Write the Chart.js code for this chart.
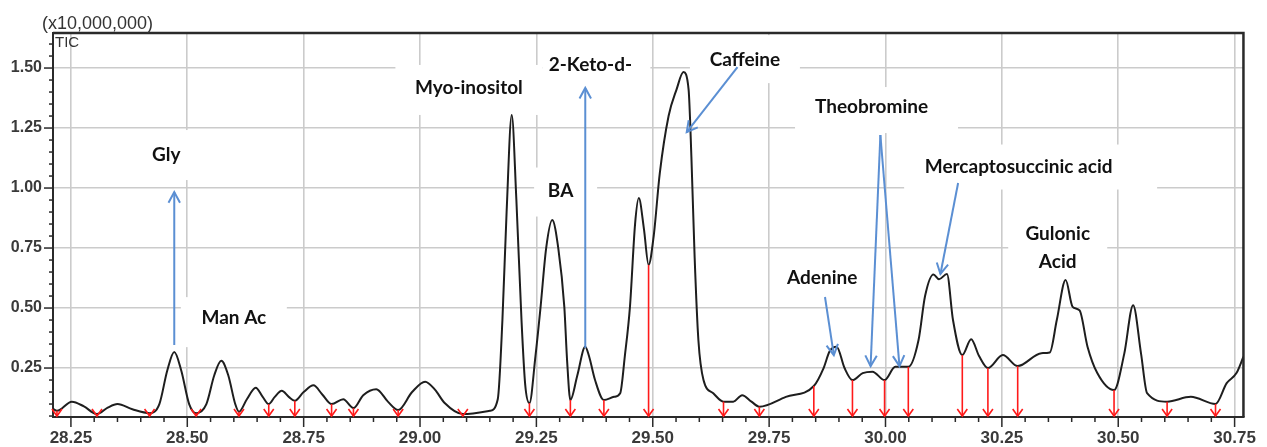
<!DOCTYPE html>
<html>
<head>
<meta charset="utf-8">
<script src="https://cdn.jsdelivr.net/npm/chart.js@4.4.1/dist/chart.umd.min.js"></script>
<style>
  html, body { margin: 0; padding: 0; background: #fff; }
</style>
</head>
<body>
<canvas id="tic" width="1267" height="447"></canvas>
<script>
// retention time (min) and TIC intensity (x10,000,000)
const times = [
  28.2115, 28.220, 28.252, 28.278, 28.306, 28.329, 28.350, 28.382, 28.419, 28.440,
  28.457, 28.472, 28.487, 28.504, 28.519, 28.541, 28.558, 28.573, 28.588, 28.603,
  28.611, 28.628, 28.647, 28.662, 28.675, 28.688, 28.703, 28.718, 28.731, 28.750,
  28.771, 28.790, 28.810, 28.835, 28.857, 28.878, 28.906, 28.931, 28.953, 28.983,
  29.011, 29.032, 29.053, 29.092, 29.150, 29.167, 29.177, 29.186, 29.197, 29.207,
  29.218, 29.226, 29.235, 29.248, 29.259, 29.271, 29.284, 29.297, 29.310, 29.316,
  29.323, 29.338, 29.355, 29.363, 29.376, 29.395, 29.417, 29.430, 29.440, 29.451,
  29.462, 29.470, 29.481, 29.491, 29.502, 29.515, 29.534, 29.551, 29.566, 29.577,
  29.583, 29.590, 29.598, 29.609, 29.630, 29.652, 29.673, 29.692, 29.712, 29.729,
  29.786, 29.846, 29.867, 29.880, 29.895, 29.912, 29.929, 29.951, 29.972, 29.998,
  30.021, 30.049, 30.071, 30.085, 30.103, 30.115, 30.132, 30.145, 30.165, 30.184,
  30.201, 30.220, 30.252, 30.284, 30.335, 30.353, 30.368, 30.387, 30.402, 30.417,
  30.434, 30.455, 30.491, 30.513, 30.532, 30.549, 30.562, 30.605, 30.656, 30.709,
  30.733, 30.754, 30.769
];
const intensity = [
  0.080, 0.072, 0.110, 0.090, 0.058, 0.085, 0.100, 0.078, 0.062, 0.100,
  0.240, 0.317, 0.240, 0.100, 0.062, 0.100, 0.220, 0.280, 0.220, 0.100,
  0.068, 0.120, 0.168, 0.130, 0.100, 0.130, 0.155, 0.130, 0.114, 0.150,
  0.178, 0.140, 0.100, 0.120, 0.083, 0.137, 0.162, 0.110, 0.075, 0.150,
  0.193, 0.160, 0.104, 0.058, 0.072, 0.120, 0.450, 0.900, 1.304, 0.950,
  0.450, 0.180, 0.104, 0.300, 0.505, 0.750, 0.867, 0.750, 0.505, 0.280,
  0.117, 0.220, 0.339, 0.300, 0.200, 0.117, 0.130, 0.145, 0.300, 0.505,
  0.850, 0.958, 0.830, 0.680, 0.800, 1.060, 1.300, 1.410, 1.483, 1.410,
  1.130, 0.710, 0.367, 0.200, 0.145, 0.110, 0.110, 0.137, 0.110, 0.089,
  0.130, 0.175, 0.250, 0.320, 0.339, 0.250, 0.200, 0.229, 0.235, 0.200,
  0.255, 0.255, 0.367, 0.550, 0.640, 0.620, 0.642, 0.450, 0.304, 0.370,
  0.300, 0.250, 0.304, 0.258, 0.312, 0.315, 0.450, 0.617, 0.505, 0.490,
  0.339, 0.229, 0.158, 0.310, 0.512, 0.310, 0.145, 0.110, 0.130, 0.100,
  0.187, 0.229, 0.297
];

// red peak-integration cut marks
const cutTimes = [
  28.220, 28.306, 28.419, 28.519, 28.611, 28.675, 28.731, 28.810, 28.857, 28.953,
  29.092, 29.235, 29.323, 29.395, 29.491, 29.652, 29.729, 29.846, 29.929, 29.998,
  30.049, 30.165, 30.220, 30.284, 30.491, 30.605, 30.709
];
const cutLevels = [
  0.072, 0.058, 0.062, 0.062, 0.068, 0.100, 0.114, 0.100, 0.083, 0.075,
  0.058, 0.104, 0.117, 0.117, 0.680, 0.110, 0.089, 0.175, 0.200, 0.200,
  0.255, 0.304, 0.250, 0.258, 0.158, 0.110, 0.100
];

const xTickLabels = ['28.25', '28.50', '28.75', '29.00', '29.25', '29.50', '29.75', '30.00', '30.25', '30.50', '30.75'];
const yTickLabels = ['0.25', '0.50', '0.75', '1.00', '1.25', '1.50'];

const xMin = 28.2115, xMax = 30.769;
const yMin = 0.046, yMax = 1.646;

// compound labels: text centre in data units, white box in px
const compoundLabels = [
  { lines: ['Gly'], x: 28.455, y: 1.1375, w: 70, h: 50, dx: 0, dy: 0 },
  { lines: ['Man Ac'], x: 28.600, y: 0.458, w: 106, h: 50, dx: 0, dy: 4 },
  { lines: ['Myo-inositol'], x: 29.105, y: 1.417, w: 147, h: 50, dx: 0, dy: 2 },
  { lines: ['2-Keto-d-'], x: 29.366, y: 1.5125, w: 108, h: 50, dx: 6, dy: 0 },
  { lines: ['BA'], x: 29.302, y: 0.9875, w: 63, h: 49, dx: 5, dy: 1 },
  { lines: ['Caffeine'], x: 29.698, y: 1.533, w: 110, h: 48, dx: 0, dy: -1 },
  { lines: ['Theobromine'], x: 29.970, y: 1.3375, w: 163, h: 46, dx: 5, dy: 3 },
  { lines: ['Mercaptosuccinic acid'], x: 30.286, y: 1.0875, w: 253, h: 45, dx: 12, dy: 0 },
  { lines: ['Gulonic', 'Acid'], x: 30.370, y: 0.750, w: 99, h: 75, dx: 0, dy: 0 },
  { lines: ['Adenine'], x: 29.864, y: 0.625, w: 90, h: 36, dx: 0, dy: 0 }
];

const pointerArrows = [
  { from: [28.472, 0.346], to: [28.472, 0.983] },
  { from: [29.355, 0.333], to: [29.355, 1.417] },
  { from: [29.682, 1.504], to: [29.573, 1.233] },
  { from: [29.989, 1.221], to: [29.968, 0.258] },
  { from: [29.989, 1.221], to: [30.030, 0.258] },
  { from: [29.870, 0.546], to: [29.889, 0.304] },
  { from: [30.156, 1.021], to: [30.118, 0.642] }
];

const gridColor = '#cbcbcb';
const axisColor = '#2a2a2a';
const labelFont = 'bold 19px Lato';

function isMajor(v) {
  return Math.abs(v / 0.25 - Math.round(v / 0.25)) < 1e-6;
}
function stepTicks(min, max) {
  const out = [];
  for (let i = Math.ceil(min / 0.05 - 1e-9); i * 0.05 <= max + 1e-9; i++) {
    out.push(+(i * 0.05).toFixed(2));
  }
  return out;
}
const xTickValues = stepTicks(xMin, xMax);
const yTickValues = stepTicks(yMin, yMax);

function tickText(labels) {
  return (value) => {
    const hit = labels.find(l => Math.abs(Number(l) - value) < 1e-6);
    return hit || '';
  };
}

function arrowHead(ctx, x0, y0, x1, y1, size) {
  const a = Math.atan2(y1 - y0, x1 - x0);
  ctx.beginPath();
  ctx.moveTo(x1 - size * Math.cos(a - 0.5), y1 - size * Math.sin(a - 0.5));
  ctx.lineTo(x1, y1);
  ctx.lineTo(x1 - size * Math.cos(a + 0.5), y1 - size * Math.sin(a + 0.5));
  ctx.stroke();
}

const decorations = {
  id: 'decorations',
  beforeDatasetsDraw(chart) {
    const { ctx, chartArea, scales: { x, y } } = chart;
    ctx.save();
    ctx.beginPath();
    ctx.rect(chartArea.left + 2, chartArea.top + 2, chartArea.width - 4, chartArea.height - 4);
    ctx.clip();
    ctx.fillStyle = '#fff';
    compoundLabels.forEach(l => {
      const cx = x.getPixelForValue(l.x) + l.dx;
      const cy = y.getPixelForValue(l.y) + l.dy;
      ctx.fillRect(cx - l.w / 2, cy - l.h / 2, l.w, l.h);
    });
    ctx.restore();
  },
  afterDatasetsDraw(chart) {
    const { ctx, chartArea, scales: { x, y } } = chart;
    ctx.save();

    // red cut marks
    ctx.strokeStyle = '#ff1a1a';
    ctx.lineWidth = 1.6;
    cutTimes.forEach((t, i) => {
      const px = x.getPixelForValue(t);
      const top = y.getPixelForValue(cutLevels[i]);
      const bottom = chartArea.bottom - 1;
      ctx.beginPath();
      ctx.moveTo(px, top);
      ctx.lineTo(px, bottom);
      ctx.stroke();
      ctx.beginPath();
      ctx.moveTo(px - 5, bottom - 7);
      ctx.lineTo(px, bottom);
      ctx.lineTo(px + 5, bottom - 7);
      ctx.stroke();
    });

    // blue pointer arrows
    ctx.strokeStyle = '#5b8fd3';
    ctx.lineWidth = 2;
    pointerArrows.forEach(a => {
      const x0 = x.getPixelForValue(a.from[0]), y0 = y.getPixelForValue(a.from[1]);
      const x1 = x.getPixelForValue(a.to[0]), y1 = y.getPixelForValue(a.to[1]);
      ctx.beginPath();
      ctx.moveTo(x0, y0);
      ctx.lineTo(x1, y1);
      ctx.stroke();
      arrowHead(ctx, x0, y0, x1, y1, 12);
    });

    // compound names
    ctx.fillStyle = '#111';
    ctx.font = labelFont;
    ctx.textAlign = 'center';
    ctx.textBaseline = 'middle';
    compoundLabels.forEach(l => {
      const cx = x.getPixelForValue(l.x);
      const cy = y.getPixelForValue(l.y);
      const lh = 28;
      l.lines.forEach((s, i) => {
        ctx.fillText(s, cx, cy + (i - (l.lines.length - 1) / 2) * lh);
      });
    });

    // tick marks
    ctx.strokeStyle = axisColor;
    ctx.lineWidth = 1.5;
    x.ticks.forEach(t => {
      const px = x.getPixelForValue(t.value);
      const len = isMajor(t.value) ? 10 : 5;
      ctx.beginPath();
      ctx.moveTo(px, chartArea.bottom);
      ctx.lineTo(px, chartArea.bottom + len);
      ctx.stroke();
    });
    y.ticks.forEach(t => {
      const py = y.getPixelForValue(t.value);
      const len = isMajor(t.value) ? 9 : 4;
      ctx.beginPath();
      ctx.moveTo(chartArea.left, py);
      ctx.lineTo(chartArea.left - len, py);
      ctx.stroke();
    });

    // frame top / right
    ctx.lineWidth = 2.5;
    ctx.beginPath();
    ctx.moveTo(chartArea.left, chartArea.top);
    ctx.lineTo(chartArea.right, chartArea.top);
    ctx.lineTo(chartArea.right, chartArea.bottom);
    ctx.stroke();

    // header texts
    ctx.fillStyle = '#333';
    ctx.textAlign = 'left';
    ctx.font = '18px "Liberation Sans"';
    ctx.fillText('(x10,000,000)', 42, 24);
    ctx.font = '15px "Liberation Sans"';
    ctx.fillText('TIC', chartArea.left + 2, chartArea.top + 10);
    ctx.restore();
  }
};

new Chart(document.getElementById('tic'), {
  type: 'line',
  data: {
    datasets: [{
      label: 'TIC',
      data: times.map((t, i) => ({ x: t, y: intensity[i] })),
      borderColor: '#1e1e1e',
      borderWidth: 2,
      pointRadius: 0,
      fill: false,
      cubicInterpolationMode: 'monotone'
    }]
  },
  options: {
    responsive: false,
    animation: false,
    layout: { padding: { top: 33, right: 17, left: 0, bottom: 0 } },
    plugins: {
      legend: { display: false },
      tooltip: { enabled: false }
    },
    scales: {
      x: {
        type: 'linear',
        min: xMin,
        max: xMax,
        afterBuildTicks: (scale) => { scale.ticks = xTickValues.map(v => ({ value: v })); },
        afterFit: (scale) => { scale.height = 30; },
        grid: {
          color: (c) => (c.tick && isMajor(c.tick.value)) ? gridColor : 'rgba(0,0,0,0)',
          lineWidth: 1.6,
          drawTicks: false
        },
        border: { display: true, color: axisColor, width: 2 },
        ticks: {
          callback: tickText(xTickLabels),
          autoSkip: false,
          maxRotation: 0,
          padding: 11,
          color: '#3a3a3a',
          font: { family: 'Liberation Sans', size: 17, weight: 'bold' }
        }
      },
      y: {
        min: yMin,
        max: yMax,
        afterBuildTicks: (scale) => { scale.ticks = yTickValues.map(v => ({ value: v })); },
        afterFit: (scale) => { scale.width = 53; },
        grid: {
          color: (c) => (c.tick && isMajor(c.tick.value)) ? gridColor : 'rgba(0,0,0,0)',
          lineWidth: 1.6,
          drawTicks: false
        },
        border: { display: true, color: axisColor, width: 2 },
        ticks: {
          callback: tickText(yTickLabels),
          autoSkip: false,
          padding: 11,
          color: '#3a3a3a',
          font: { family: 'Liberation Sans', size: 16, weight: 'bold' }
        }
      }
    }
  },
  plugins: [decorations]
});
</script>
</body>
</html>
